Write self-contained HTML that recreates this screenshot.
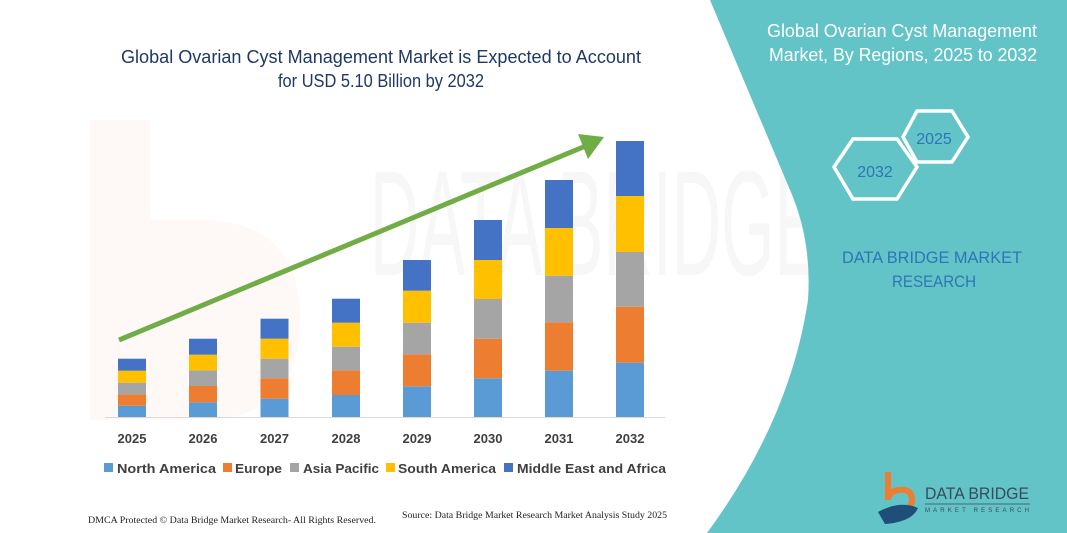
<!DOCTYPE html>
<html><head><meta charset="utf-8"><style>
html,body{margin:0;padding:0;background:#fff;}
svg{display:block;}
</style></head><body>
<svg width="1067" height="533" viewBox="0 0 1067 533" xmlns="http://www.w3.org/2000/svg" font-family="Liberation Sans, sans-serif">
<rect width="1067" height="533" fill="#fff"/>
<!-- faint watermark -->
<path d="M90 120 L90 420 L200 420 Q300 420 300 320 Q300 220 200 220 L150 220 L150 120 Z" fill="#fdf4ee" opacity="0.5"/>
<text x="370" y="275" font-size="150" fill="#f7f7f7" textLength="450" lengthAdjust="spacingAndGlyphs">DATA BRIDGE</text>
<!-- teal panel -->
<path d="M710 0 L1067 0 L1067 533 L707 533 Q790 420 808 300 Q812 240 790 190 Z" fill="#63c4c8"/>
<text x="1037" y="37" font-size="18" fill="#fff" text-anchor="end" textLength="270" lengthAdjust="spacingAndGlyphs">Global Ovarian Cyst Management</text>
<text x="1037" y="61" font-size="18" fill="#fff" text-anchor="end" textLength="268" lengthAdjust="spacingAndGlyphs">Market, By Regions, 2025 to 2032</text>
<polygon points="917,111 952,111 968,137 952,162 917,162 903,137" fill="none" stroke="#fff" stroke-width="3.5"/>
<text x="934" y="144" font-size="16" fill="#2e75b6" text-anchor="middle">2025</text>
<polygon points="853,139 897,139 917,167 897,199 853,199 834,167" fill="none" stroke="#fff" stroke-width="3.5"/>
<text x="875" y="177" font-size="16" fill="#2e75b6" text-anchor="middle">2032</text>
<text x="932" y="263" font-size="17" fill="#2e75b6" text-anchor="middle" textLength="180" lengthAdjust="spacingAndGlyphs">DATA BRIDGE MARKET</text>
<text x="934" y="287" font-size="17" fill="#2e75b6" text-anchor="middle" textLength="84" lengthAdjust="spacingAndGlyphs">RESEARCH</text>
<!-- logo -->
<path d="M888 472 L888 500 Q888 492 898 490 Q912 488 912 500 Q912 510 898 510" fill="none" stroke="#ed7d31" stroke-width="6"/>
<path d="M878 512 Q900 500 918 508 Q912 522 885 524 Z" fill="#1f4e79"/>
<text x="925" y="499" font-size="17" fill="#3a4a5a" textLength="104" lengthAdjust="spacingAndGlyphs">DATA BRIDGE</text>
<line x1="925" y1="504" x2="1030" y2="504" stroke="#3a4a5a" stroke-width="0.8"/>
<text x="925" y="512" font-size="6" fill="#3a4a5a" textLength="104" lengthAdjust="spacing">MARKET RESEARCH</text>
<!-- title -->
<text x="381" y="63" font-size="18" fill="#1f3864" text-anchor="middle" textLength="520" lengthAdjust="spacingAndGlyphs">Global Ovarian Cyst Management Market is Expected to Account</text>
<text x="381" y="87" font-size="18" fill="#1f3864" text-anchor="middle" textLength="206" lengthAdjust="spacingAndGlyphs">for USD 5.10 Billion by 2032</text>
<!-- axis -->
<line x1="105" y1="417.5" x2="665" y2="417.5" stroke="#d9d9d9" stroke-width="1"/>
<g id="bars">
<rect x="118" y="405.7" width="28" height="11.3" fill="#5b9bd5"/>
<rect x="118" y="394.3" width="28" height="11.4" fill="#ed7d31"/>
<rect x="118" y="382.7" width="28" height="11.6" fill="#a5a5a5"/>
<rect x="118" y="370.7" width="28" height="12" fill="#ffc000"/>
<rect x="118" y="358.7" width="28" height="12" fill="#4472c4"/>
<rect x="189" y="402.3" width="28" height="14.7" fill="#5b9bd5"/>
<rect x="189" y="386" width="28" height="16.3" fill="#ed7d31"/>
<rect x="189" y="370.3" width="28" height="15.7" fill="#a5a5a5"/>
<rect x="189" y="354.7" width="28" height="15.6" fill="#ffc000"/>
<rect x="189" y="338.7" width="28" height="16" fill="#4472c4"/>
<rect x="260.5" y="398.7" width="28" height="18.3" fill="#5b9bd5"/>
<rect x="260.5" y="378.3" width="28" height="20.4" fill="#ed7d31"/>
<rect x="260.5" y="358.7" width="28" height="19.6" fill="#a5a5a5"/>
<rect x="260.5" y="338.7" width="28" height="20" fill="#ffc000"/>
<rect x="260.5" y="318.7" width="28" height="20" fill="#4472c4"/>
<rect x="332" y="395" width="28" height="22" fill="#5b9bd5"/>
<rect x="332" y="370.3" width="28" height="24.7" fill="#ed7d31"/>
<rect x="332" y="346.7" width="28" height="23.6" fill="#a5a5a5"/>
<rect x="332" y="322.7" width="28" height="24" fill="#ffc000"/>
<rect x="332" y="298.7" width="28" height="24" fill="#4472c4"/>
<rect x="403" y="386.3" width="28" height="30.7" fill="#5b9bd5"/>
<rect x="403" y="354.3" width="28" height="32" fill="#ed7d31"/>
<rect x="403" y="322.7" width="28" height="31.6" fill="#a5a5a5"/>
<rect x="403" y="290.7" width="28" height="32" fill="#ffc000"/>
<rect x="403" y="260" width="28" height="30.7" fill="#4472c4"/>
<rect x="474" y="378.3" width="28" height="38.7" fill="#5b9bd5"/>
<rect x="474" y="338.7" width="28" height="39.6" fill="#ed7d31"/>
<rect x="474" y="299" width="28" height="39.7" fill="#a5a5a5"/>
<rect x="474" y="260" width="28" height="39" fill="#ffc000"/>
<rect x="474" y="220" width="28" height="40" fill="#4472c4"/>
<rect x="545" y="370.7" width="28" height="46.3" fill="#5b9bd5"/>
<rect x="545" y="322.3" width="28" height="48.4" fill="#ed7d31"/>
<rect x="545" y="275.7" width="28" height="46.6" fill="#a5a5a5"/>
<rect x="545" y="228" width="28" height="47.7" fill="#ffc000"/>
<rect x="545" y="180" width="28" height="48" fill="#4472c4"/>
<rect x="616" y="362.7" width="28" height="54.3" fill="#5b9bd5"/>
<rect x="616" y="306.7" width="28" height="56" fill="#ed7d31"/>
<rect x="616" y="252" width="28" height="54.7" fill="#a5a5a5"/>
<rect x="616" y="196" width="28" height="56" fill="#ffc000"/>
<rect x="616" y="141" width="28" height="55" fill="#4472c4"/>
</g>
<line x1="119" y1="340" x2="588" y2="145" stroke="#70ad47" stroke-width="5"/>
<polygon points="604,137 578,134 588,159" fill="#70ad47"/>
<g font-size="13" font-weight="bold" fill="#404040" text-anchor="middle">
<text x="132" y="443">2025</text><text x="203" y="443">2026</text><text x="274.5" y="443">2027</text><text x="346" y="443">2028</text>
<text x="417" y="443">2029</text><text x="488" y="443">2030</text><text x="559" y="443">2031</text><text x="630" y="443">2032</text>
</g>
<g font-size="13" font-weight="bold" fill="#404040">
<rect x="104" y="463" width="9" height="9" fill="#5b9bd5"/><text x="117" y="473" textLength="99" lengthAdjust="spacingAndGlyphs">North America</text>
<rect x="223" y="463" width="9" height="9" fill="#ed7d31"/><text x="235" y="473" textLength="47" lengthAdjust="spacingAndGlyphs">Europe</text>
<rect x="290" y="463" width="9" height="9" fill="#a5a5a5"/><text x="303" y="473" textLength="76" lengthAdjust="spacingAndGlyphs">Asia Pacific</text>
<rect x="386" y="463" width="9" height="9" fill="#ffc000"/><text x="398" y="473" textLength="98" lengthAdjust="spacingAndGlyphs">South America</text>
<rect x="504" y="463" width="9" height="9" fill="#4472c4"/><text x="517" y="473" textLength="149" lengthAdjust="spacingAndGlyphs">Middle East and Africa</text>
</g>
<text x="88" y="523" font-family="Liberation Serif, serif" font-size="9" fill="#222" textLength="288" lengthAdjust="spacingAndGlyphs">DMCA Protected © Data Bridge Market Research-  All Rights Reserved.</text>
<text x="402" y="518" font-family="Liberation Serif, serif" font-size="9" fill="#222" textLength="265" lengthAdjust="spacingAndGlyphs">Source: Data Bridge Market Research  Market Analysis Study 2025</text>
</svg>
</body></html>
